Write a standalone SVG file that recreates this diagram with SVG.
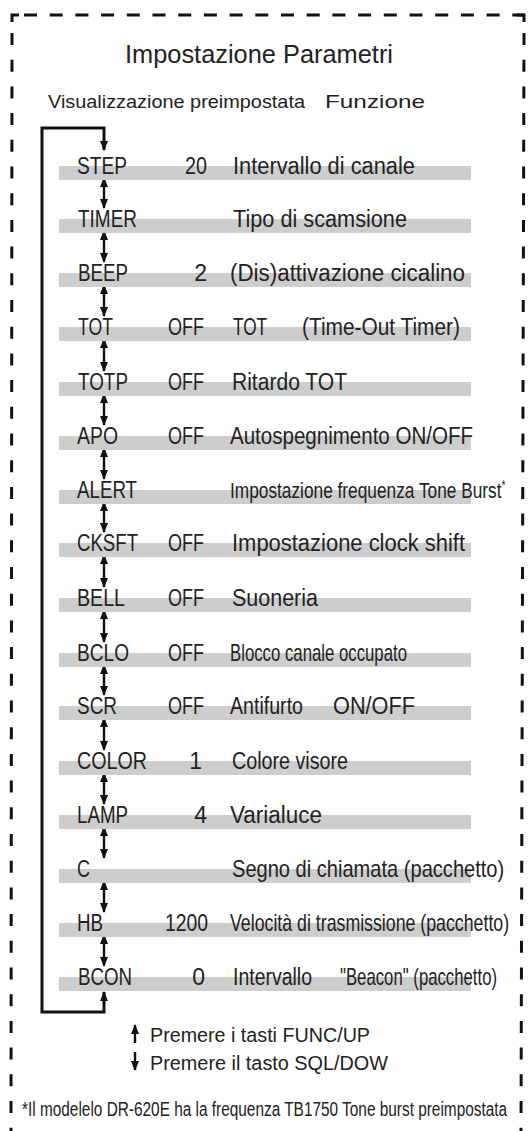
<svg xmlns="http://www.w3.org/2000/svg" width="528" height="1131" viewBox="0 0 528 1131">
<style>
text{font-family:"Liberation Sans",Arial,sans-serif;fill:#222}
.r{font-size:23px}
.v{font-size:23px;text-anchor:end}
.bar{fill:#cdcdcd}
.b{fill:none;stroke:#111;stroke-width:3}
.dbl{stroke:#111;stroke-width:2.4;marker-start:url(#ah);marker-end:url(#ah)}
</style>
<defs>
<marker id="ah" viewBox="0 0 10 8" refX="9" refY="4" markerWidth="10" markerHeight="8" orient="auto-start-reverse" markerUnits="userSpaceOnUse"><path d="M0,0 L10,4 L0,8 z" fill="#111"/></marker>
<marker id="ah2" viewBox="0 0 10 8" refX="9" refY="4" markerWidth="10" markerHeight="8" orient="auto-start-reverse" markerUnits="userSpaceOnUse"><path d="M0,0 L10,4 L0,8 z" fill="#111"/></marker>
</defs>
<g id="border">
<line x1="12" y1="15" x2="524" y2="15" class="b" stroke-dasharray="13 12.7" stroke-dashoffset="-12"/>
<path d="M12,22 V15 H19" class="b"/>
<path d="M517,15 H524 V22" class="b"/>
<line x1="12" y1="33" x2="11" y2="1131" class="b" stroke-dasharray="12 14.7"/>
<line x1="524" y1="33" x2="521" y2="1131" class="b" stroke-dasharray="12 14.7"/>
</g>
<g id="title"><text x="259" y="63" font-size="25" text-anchor="middle" textLength="268" lengthAdjust="spacingAndGlyphs">Impostazione Parametri</text></g>
<g id="header">
<text x="48" y="108" font-size="19" textLength="257" lengthAdjust="spacingAndGlyphs">Visualizzazione preimpostata</text>
<text x="325" y="108" font-size="19" textLength="100" lengthAdjust="spacingAndGlyphs">Funzione</text>
</g>
<g id="connectors">
<path d="M104,992 V1012 H42 V128 H104 V150" fill="none" stroke="#111" stroke-width="3" marker-start="url(#ah2)" marker-end="url(#ah2)"/>
<line x1="104" y1="178" x2="104" y2="208" class="dbl"/>
<line x1="104" y1="231" x2="104" y2="262" class="dbl"/>
<line x1="104" y1="285" x2="104" y2="316" class="dbl"/>
<line x1="104" y1="339" x2="104" y2="371" class="dbl"/>
<line x1="104" y1="394" x2="104" y2="425" class="dbl"/>
<line x1="104" y1="448" x2="104" y2="479" class="dbl"/>
<line x1="104" y1="502" x2="104" y2="532" class="dbl"/>
<line x1="104" y1="555" x2="104" y2="587" class="dbl"/>
<line x1="104" y1="610" x2="104" y2="642" class="dbl"/>
<line x1="104" y1="665" x2="104" y2="695" class="dbl"/>
<line x1="104" y1="718" x2="104" y2="750" class="dbl"/>
<line x1="104" y1="773" x2="104" y2="804" class="dbl"/>
<line x1="104" y1="827" x2="104" y2="858" class="dbl"/>
<line x1="104" y1="881" x2="104" y2="912" class="dbl"/>
<line x1="104" y1="935" x2="104" y2="966" class="dbl"/>
</g>
<g id="row-step"><rect class="bar" x="59" y="166" width="412" height="14"/><text class="r" x="77" y="174" textLength="50" lengthAdjust="spacingAndGlyphs">STEP</text><text class="v" x="207" y="174" textLength="22" lengthAdjust="spacingAndGlyphs">20</text><text class="r" x="233" y="174" textLength="182" lengthAdjust="spacingAndGlyphs">Intervallo di canale</text></g>
<g id="row-timer"><rect class="bar" x="59" y="219" width="412" height="14"/><text class="r" x="78" y="227" textLength="59" lengthAdjust="spacingAndGlyphs">TIMER</text><text class="r" x="233" y="227" textLength="174" lengthAdjust="spacingAndGlyphs">Tipo di scamsione</text></g>
<g id="row-beep"><rect class="bar" x="59" y="273" width="412" height="14"/><text class="r" x="78" y="281" textLength="50" lengthAdjust="spacingAndGlyphs">BEEP</text><text class="v" x="207" y="281">2</text><text class="r" x="230" y="281" textLength="235" lengthAdjust="spacingAndGlyphs">(Dis)attivazione cicalino</text></g>
<g id="row-tot"><rect class="bar" x="59" y="327" width="412" height="14"/><text class="r" x="78" y="335" textLength="35" lengthAdjust="spacingAndGlyphs">TOT</text><text class="v" x="204" y="335" textLength="36" lengthAdjust="spacingAndGlyphs">OFF</text><text class="r" x="233" y="335" textLength="34" lengthAdjust="spacingAndGlyphs">TOT</text><text class="r" x="302" y="335" textLength="158" lengthAdjust="spacingAndGlyphs">(Time-Out Timer)</text></g>
<g id="row-totp"><rect class="bar" x="59" y="382" width="412" height="14"/><text class="r" x="78" y="390" textLength="50" lengthAdjust="spacingAndGlyphs">TOTP</text><text class="v" x="204" y="390" textLength="36" lengthAdjust="spacingAndGlyphs">OFF</text><text class="r" x="232" y="390" textLength="115" lengthAdjust="spacingAndGlyphs">Ritardo TOT</text></g>
<g id="row-apo"><rect class="bar" x="59" y="436" width="412" height="14"/><text class="r" x="77" y="444" textLength="41" lengthAdjust="spacingAndGlyphs">APO</text><text class="v" x="204" y="444" textLength="36" lengthAdjust="spacingAndGlyphs">OFF</text><text class="r" x="230" y="444" textLength="243" lengthAdjust="spacingAndGlyphs">Autospegnimento ON/OFF</text></g>
<g id="row-alert"><rect class="bar" x="59" y="490" width="412" height="14"/><text class="r" x="77" y="498" textLength="60" lengthAdjust="spacingAndGlyphs">ALERT</text><text class="r" transform="translate(230,498) scale(0.752,1)">Impostazione frequenza Tone Burst<tspan font-size="14" dy="-8">*</tspan></text></g>
<g id="row-cksft"><rect class="bar" x="59" y="543" width="412" height="14"/><text class="r" x="77" y="551" textLength="61" lengthAdjust="spacingAndGlyphs">CKSFT</text><text class="v" x="204" y="551" textLength="36" lengthAdjust="spacingAndGlyphs">OFF</text><text class="r" x="232" y="551" textLength="233" lengthAdjust="spacingAndGlyphs">Impostazione clock shift</text></g>
<g id="row-bell"><rect class="bar" x="59" y="598" width="412" height="14"/><text class="r" x="77" y="606" textLength="48" lengthAdjust="spacingAndGlyphs">BELL</text><text class="v" x="204" y="606" textLength="36" lengthAdjust="spacingAndGlyphs">OFF</text><text class="r" x="232" y="606" textLength="86" lengthAdjust="spacingAndGlyphs">Suoneria</text></g>
<g id="row-bclo"><rect class="bar" x="59" y="653" width="412" height="14"/><text class="r" x="77" y="661" textLength="52" lengthAdjust="spacingAndGlyphs">BCLO</text><text class="v" x="204" y="661" textLength="36" lengthAdjust="spacingAndGlyphs">OFF</text><text class="r" transform="translate(230,661) scale(0.729,1)">Blocco canale occupato</text></g>
<g id="row-scr"><rect class="bar" x="59" y="706" width="412" height="14"/><text class="r" x="77" y="714" textLength="40" lengthAdjust="spacingAndGlyphs">SCR</text><text class="v" x="204" y="714" textLength="36" lengthAdjust="spacingAndGlyphs">OFF</text><text class="r" x="230" y="714" textLength="73" lengthAdjust="spacingAndGlyphs">Antifurto</text><text class="r" x="333" y="714" textLength="82" lengthAdjust="spacingAndGlyphs">ON/OFF</text></g>
<g id="row-color"><rect class="bar" x="59" y="761" width="412" height="14"/><text class="r" x="77" y="769" textLength="70" lengthAdjust="spacingAndGlyphs">COLOR</text><text class="v" x="202" y="769">1</text><text class="r" x="232" y="769" textLength="116" lengthAdjust="spacingAndGlyphs">Colore visore</text></g>
<g id="row-lamp"><rect class="bar" x="59" y="815" width="412" height="14"/><text class="r" x="77" y="823" textLength="51" lengthAdjust="spacingAndGlyphs">LAMP</text><text class="v" x="207" y="823">4</text><text class="r" x="230" y="823" textLength="92" lengthAdjust="spacingAndGlyphs">Varialuce</text></g>
<g id="row-c"><rect class="bar" x="59" y="869" width="412" height="14"/><text class="r" x="77" y="877" textLength="13" lengthAdjust="spacingAndGlyphs">C</text><text class="r" transform="translate(232,877) scale(0.873,1)">Segno di chiamata (pacchetto)</text></g>
<g id="row-hb"><rect class="bar" x="59" y="923" width="412" height="14"/><text class="r" x="77" y="931" textLength="26" lengthAdjust="spacingAndGlyphs">HB</text><text class="v" x="208" y="931" textLength="43" lengthAdjust="spacingAndGlyphs">1200</text><text class="r" transform="translate(230,931) scale(0.772,1)">Velocità di trasmissione (pacchetto)</text></g>
<g id="row-bcon"><rect class="bar" x="59" y="977" width="412" height="14"/><text class="r" x="78" y="985" textLength="54" lengthAdjust="spacingAndGlyphs">BCON</text><text class="v" x="205" y="985">0</text><text class="r" x="233" y="985" textLength="79" lengthAdjust="spacingAndGlyphs">Intervallo</text><text class="r" transform="translate(340,985) scale(0.728,1)">"Beacon" (pacchetto)</text></g>
<g id="legend">
<line x1="135" y1="1043" x2="135" y2="1025" stroke="#111" stroke-width="2.4" marker-end="url(#ah)"/>
<text x="150" y="1042" font-size="20" textLength="220" lengthAdjust="spacingAndGlyphs">Premere i tasti FUNC/UP</text>
<line x1="135" y1="1052" x2="135" y2="1070" stroke="#111" stroke-width="2.4" marker-end="url(#ah)"/>
<text x="150" y="1070" font-size="20" textLength="238" lengthAdjust="spacingAndGlyphs">Premere il tasto SQL/DOW</text>
</g>
<g id="footnote"><text font-size="20" transform="translate(22,1116) scale(0.77,1)">*Il modelelo DR-620E ha la frequenza TB1750 Tone burst preimpostata</text></g>
</svg>
